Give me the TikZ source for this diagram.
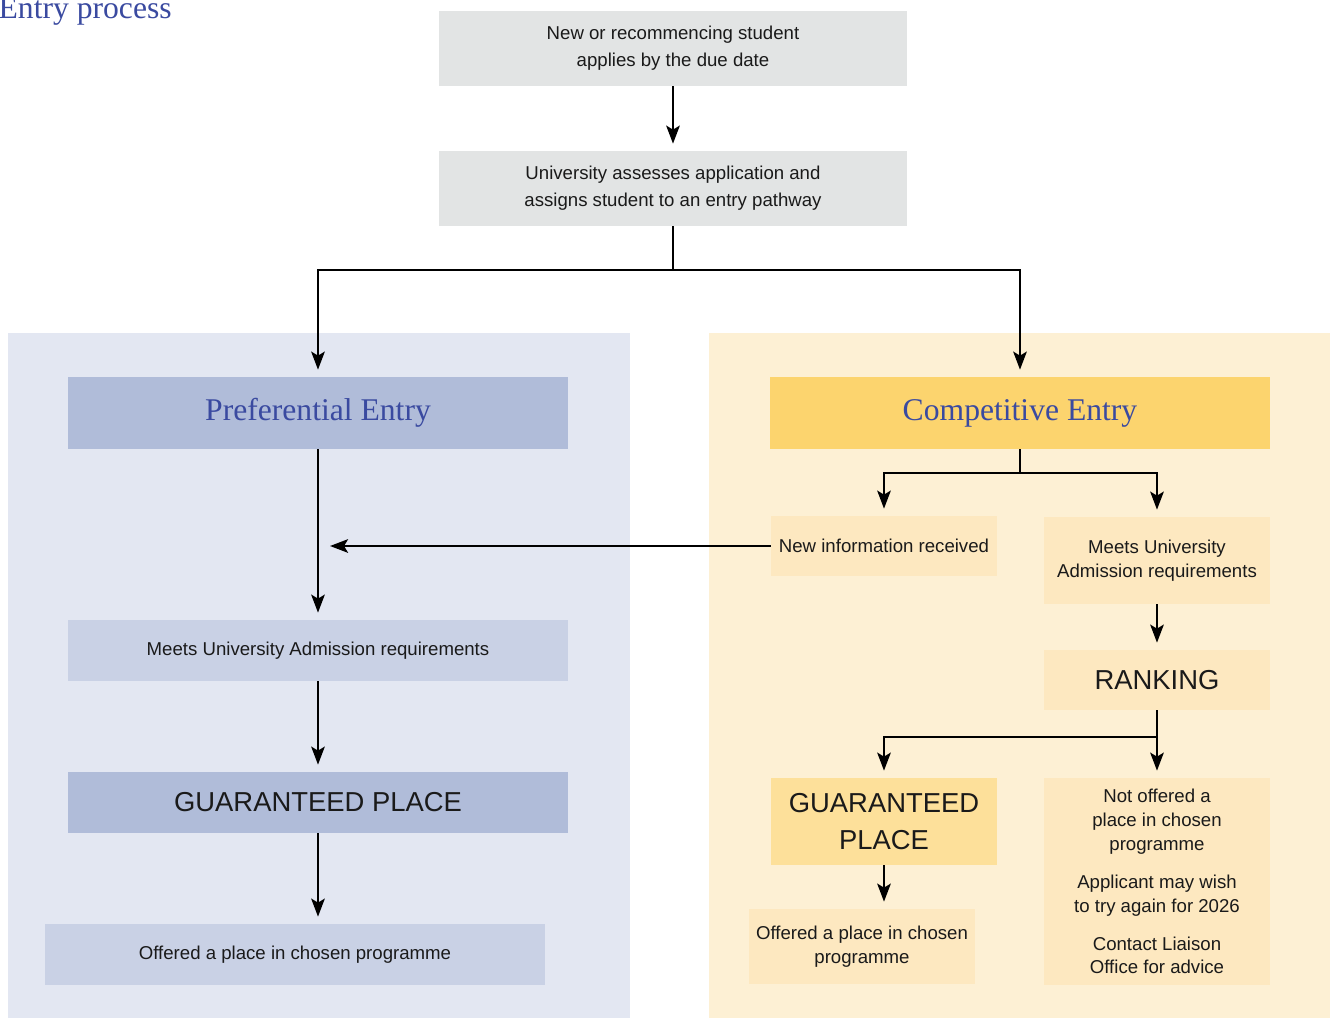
\documentclass[tikz,border=0pt]{standalone}
\usepackage{fontspec}
\setmainfont{Liberation Sans}
\newfontfamily\headfont{Liberation Serif}
\usetikzlibrary{arrows.meta,positioning}

\definecolor{headblue}{HTML}{3A4AA0}
\definecolor{textdark}{HTML}{1A1A1A}
\definecolor{greybox}{HTML}{E2E4E4}
\definecolor{prefpanel}{HTML}{E3E7F2}
\definecolor{prefdark}{HTML}{B0BCD9}
\definecolor{preflight}{HTML}{C9D1E5}
\definecolor{comppanel}{HTML}{FDF0D4}
\definecolor{compdark}{HTML}{FCD46E}
\definecolor{compmid}{HTML}{FDE09A}
\definecolor{complight}{HTML}{FDE8C0}

\begin{document}
\begin{tikzpicture}
                [
                x=0.02cm, y=-0.02cm,
                every node/.style={rectangle, inner sep=0pt, align=center, text=textdark,
                  font=\fontsize{10.6}{13.6}\selectfont},
                wide/.style={minimum width=10cm, minimum height=1.22cm},
                narrow/.style={minimum width=4.52cm, minimum height=1.2cm},
                heading/.style={font=\headfont\fontsize{18}{20}\selectfont, text=headblue},
                bigcaps/.style={font=\fontsize{15.6}{21}\selectfont},
                arrow/.style={-{Stealth[length=0.36cm, width=0.27cm, inset=0.08cm]}, line width=1.5pt, draw=black, shorten >=0.14cm},
                link/.style={line width=1.5pt, draw=black}
                ]
                \useasboundingbox (0,0) rectangle (1330,1018);
                % Title
                \node[heading, anchor=base east] (title) at (172,18) {Entry process};
                % Panels
                \fill[prefpanel] (8,333) rectangle (630,1018);
                \fill[comppanel] (709,333) rectangle (1330,1018);
                % Common steps
                \node[fill=greybox, minimum width=9.36cm, minimum height=1.5cm,
                  font=\fontsize{10.6}{15.3}\selectfont] (apply) at (673,48.5)
                  {New or recommencing student\\applies by the due date};
                \node[fill=greybox, minimum width=9.36cm, minimum height=1.5cm,
                  font=\fontsize{10.6}{15.3}\selectfont] (assess) at (673,188.5)
                  {University assesses application and\\assigns student to an entry pathway};
                % Preferential entry
                \node[heading, wide, fill=prefdark, minimum height=1.44cm] (pref) at (318,413) {Preferential Entry};
                \node[wide, fill=preflight] (prefmeets) at (318,650.5) {Meets University Admission requirements};
                \node[wide, bigcaps, fill=prefdark] (prefguar) at (318,802.5) {GUARANTEED PLACE};
                \node[wide, fill=preflight] (prefoffer) at (295,954.5) {Offered a place in chosen programme};
                % Competitive entry
                \node[heading, wide, fill=compdark, minimum height=1.44cm] (comp) at (1020,413) {Competitive Entry};
                \node[narrow, fill=complight] (newinfo) at (884,546) {New information received};
                \node[narrow, fill=complight, minimum height=1.74cm] (compmeets) at (1157,560.5)
                  {Meets University\\Admission requirements};
                \node[narrow, bigcaps, fill=complight] (ranking) at (1157,680) {RANKING};
                \node[narrow, bigcaps, fill=compmid, minimum height=1.74cm] (compguar) at (884,821.5)
                  {GUARANTEED\\PLACE};
                \node[narrow, fill=complight, minimum height=1.5cm] (compoffer) at (862,946.5)
                  {Offered a place in chosen\\programme};
                \node[narrow, fill=complight, minimum height=4.14cm] (notoffer) at (1157,881.5)
                  {Not offered a\\place in chosen\\programme\\[8pt]
                   Applicant may wish\\to try again for 2026\\[8pt]
                   Contact Liaison\\Office for advice};
                % Branch points
                \coordinate (split) at (673,270);
                \coordinate (compsplit) at (1020,473);
                \coordinate (ranksplit) at (1157,737);
                \coordinate (merge) at (330,546);
                % Connectors
                \draw[arrow] (apply.south) -- (assess.north);
                \draw[link] (assess.south) -- (split);
                \draw[arrow] (split) -| (pref.north);
                \draw[arrow] (split) -| (comp.north);
                \draw[arrow] (pref.south) -- (prefmeets.north);
                \draw[arrow] (prefmeets.south) -- (prefguar.north);
                \draw[arrow] (prefguar.south) -- (prefguar.south |- prefoffer.north);
                \draw[arrow, shorten >=0pt] (newinfo.west) -- (merge);
                \draw[link] (comp.south) -- (compsplit);
                \draw[arrow] (compsplit) -| (newinfo.north);
                \draw[arrow] (compsplit) -| (compmeets.north);
                \draw[arrow] (compmeets.south) -- (ranking.north);
                \draw[arrow] (ranking.south) -- (notoffer.north);
                \draw[arrow] (ranksplit) -| (compguar.north);
                \draw[arrow] (compguar.south) -- (compguar.south |- compoffer.north);
            \end{tikzpicture}
\end{document}
